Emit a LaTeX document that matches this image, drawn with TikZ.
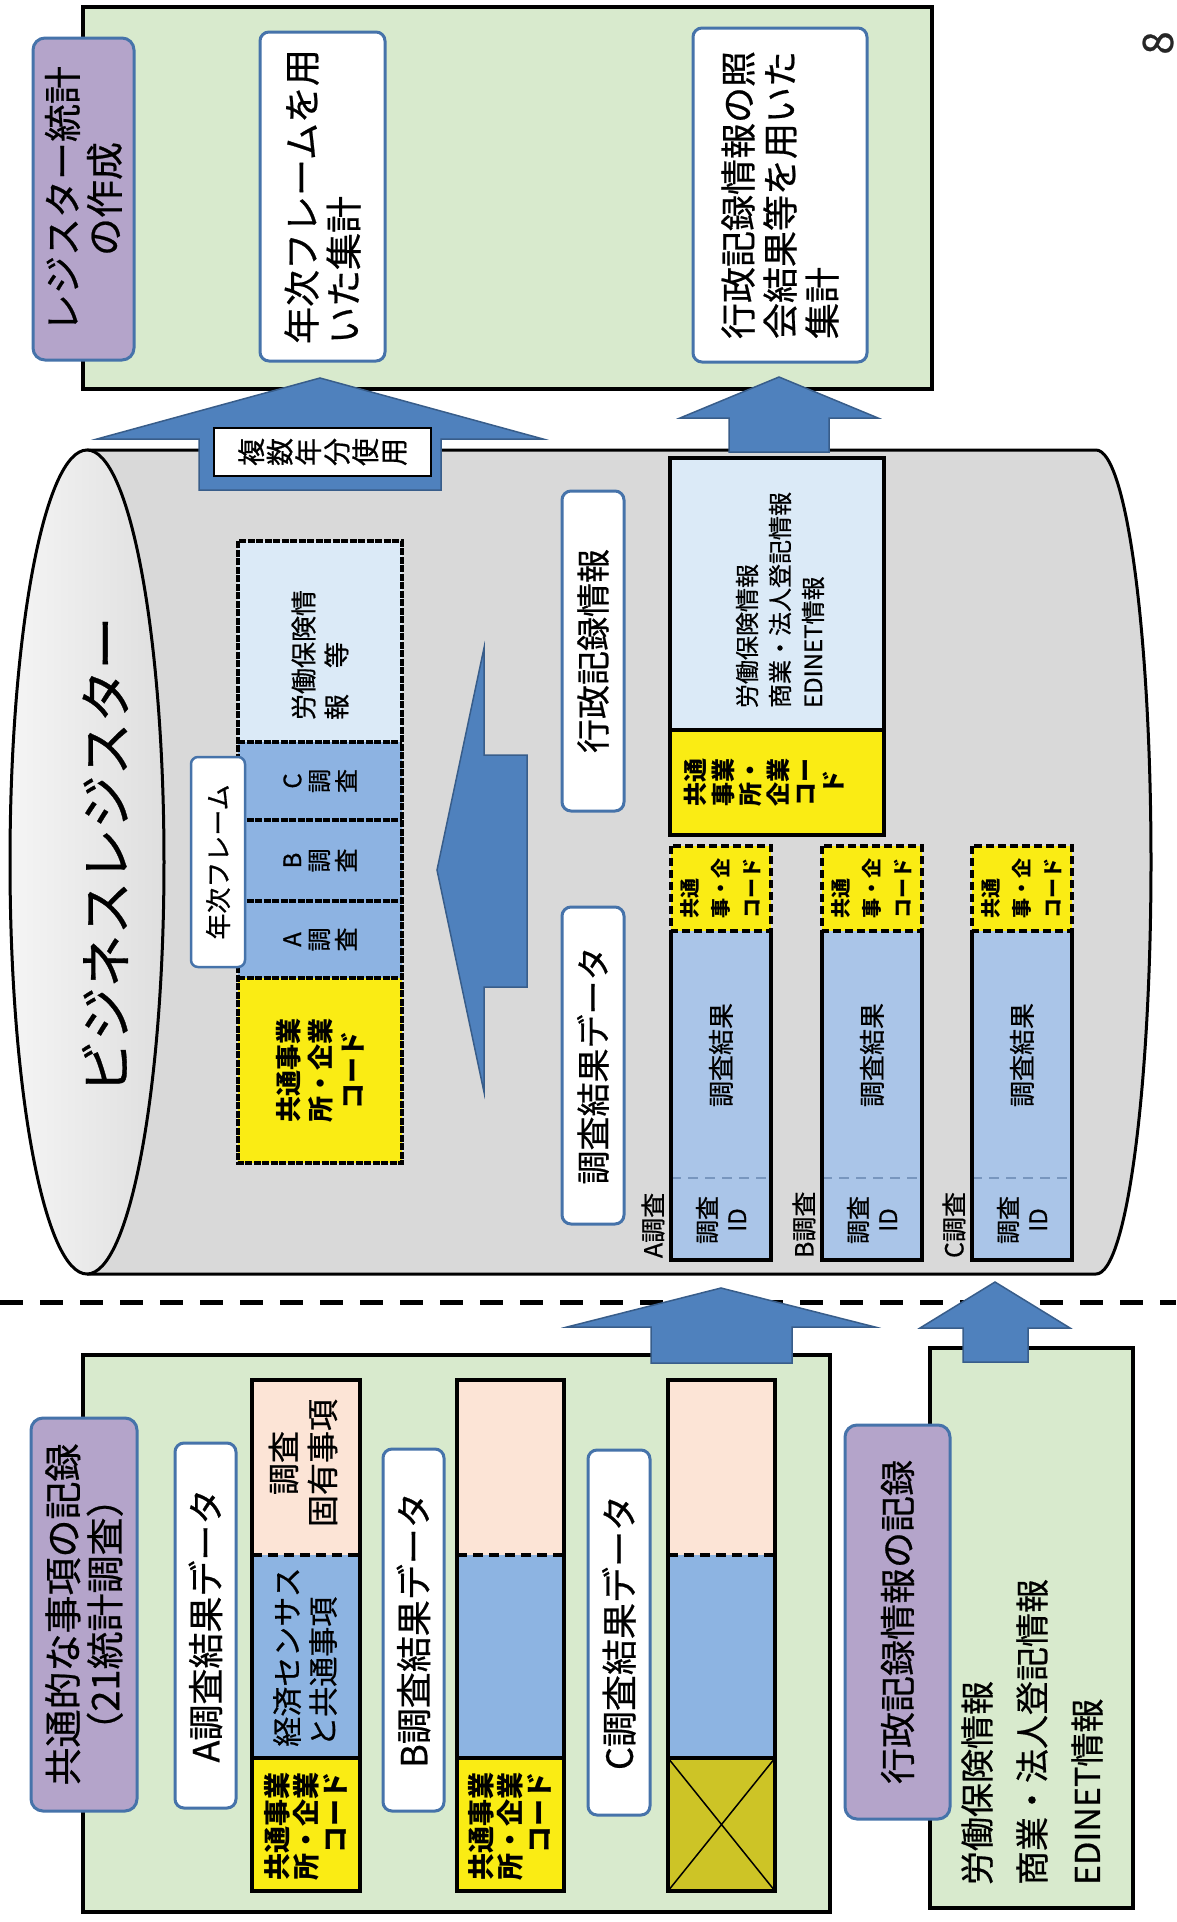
\documentclass[tikz,border=0pt]{standalone}
\usepackage{fontspec}
\setmainfont{Noto Sans CJK JP}[UprightFeatures={FakeBold=0.6}]
\newcommand\fsz[2]{\fontsize{#1pt}{#2pt}\selectfont}
\definecolor{cgreen}{RGB}{216,234,205}
\definecolor{cpurple}{RGB}{180,164,202}
\definecolor{cborder}{RGB}{70,115,170}
\definecolor{clight}{RGB}{219,234,247}
\definecolor{cmid}{RGB}{141,179,226}
\definecolor{cblue}{RGB}{141,180,226}
\definecolor{csurv}{RGB}{170,197,232}
\definecolor{cyellow}{RGB}{250,236,20}
\definecolor{colive}{RGB}{205,196,38}
\definecolor{cpeach}{RGB}{252,228,214}
\definecolor{carrow}{RGB}{79,129,189}
\definecolor{carrowd}{RGB}{56,93,138}
\definecolor{cgray}{RGB}{217,217,217}
\definecolor{cidsep}{RGB}{120,150,190}
\tikzset{
  every node/.style={inner sep=0pt, outer sep=0pt},
  rot/.style={rotate=90},
  grnbox/.style={draw=black, line width=3.5pt, fill=cgreen},
  purpbox/.style={rot, draw=cborder, line width=3pt, fill=cpurple, rounded corners=12pt, align=center},
  whitebox/.style={rot, draw=cborder, line width=3pt, fill=white, rounded corners=9pt, align=center},
  blkline/.style={draw=black, line width=4pt},
  dotline/.style={draw=black, line width=4pt, dash pattern=on 7pt off 1.5pt},
  survdash/.style={draw=black, line width=4pt, dash pattern=on 8pt off 4pt},
  barrow/.style={fill=carrow, draw=carrowd, line width=1.5pt, line join=miter},
  codetext/.style={rot, font=\bfseries\fsz{20}{31}, align=left},
}
\begin{document}
\begin{tikzpicture}[x=1pt,y=-1pt]
\useasboundingbox (0,0) rectangle (1176,1922);
\fill[white] (0,0) rectangle (1176,1922);

% ===== top green area =====
\node[grnbox, minimum width=849pt, minimum height=382pt] (tg) at (507.5,198) {};
\node[purpbox, minimum width=322pt, minimum height=101pt, font=\fsz{38}{42}] (p1) at (83.5,199) {レジスター統計\\の作成};
\node[whitebox, minimum width=329pt, minimum height=125pt, font=\fsz{37}{42}, align=left] (w1) at (322.5,196.5) {年次フレームを用\\いた集計};
\node[whitebox, minimum width=334pt, minimum height=174pt, font=\fsz{36}{42}, align=left] (w2) at (780,195) {行政記録情報の照\\会結果等を用いた\\集計};
\node[rot, font=\fsz{42}{48}, text=black!85] (pg) at (1158,43) {8};

% ===== cylinder =====
\fill[cgray] (87,450) -- (1096,450) arc[start angle=-90, end angle=90, x radius=55, y radius=412] -- (87,1274) -- cycle;
\draw[line width=3pt] (87,450) -- (1096,450) arc[start angle=-90, end angle=90, x radius=55, y radius=412] -- (87,1274);
\shade[left color=white!92!gray, right color=cgray!85] (87,862) ellipse[x radius=77, y radius=412];
\draw[line width=3pt] (87,862) ellipse[x radius=77, y radius=412];
\node[rot, font=\fsz{53}{60}] (bizreg) at (105,855) {ビジネスレジスター};

% arrow to top green (multi-year)
\draw[barrow] (320,378) -- (543,439) -- (441,439) -- (441,490) -- (199,490) -- (199,439) -- (97,439) -- cycle;
\node[rot, draw=black, line width=2pt, fill=white, minimum width=48pt, minimum height=217pt, font=\fsz{28}{28.5}, align=center] (l1) at (322.5,452) {複\\数\\年\\分\\使\\用};

% arrow to top green (admin)
\draw[barrow] (779,377) -- (878,418) -- (829,418) -- (829,452) -- (729,452) -- (729,418) -- (680,418) -- cycle;

% annual frame record
\fill[clight] (238,541) rectangle (402,742);
\fill[cmid] (238,742) rectangle (402,978);
\fill[cyellow] (238,978) rectangle (402,1163);
\draw[dotline] (238,742) -- (402,742);
\draw[dotline] (238,820) -- (402,820);
\draw[dotline] (238,901) -- (402,901);
\draw[dotline] (238,978) -- (402,978);
\draw[dotline] (238,541) rectangle (402,1163);
\node[rot, font=\fsz{26}{33}, align=left] (r1t) at (320,655) {労働保険情\\報　等};
\node[rot, font=\fsz{24}{27}, align=center] (r1c) at (320,781) {C\\調\\査};
\node[rot, font=\fsz{24}{27}, align=center] (r1b) at (320,860.5) {B\\調\\査};
\node[rot, font=\fsz{24}{27}, align=center] (r1a) at (320,939.5) {A\\調\\査};
\node[rot, font=\bfseries\fsz{26}{32}, align=center] (r1y) at (320,1070) {共通事業\\所・企業\\コード};
\node[rot, draw=cborder, line width=2.5pt, fill=white, rounded corners=7pt, minimum width=210pt, minimum height=54pt, font=\fsz{26}{30}] (nf) at (218,862) {年次フレーム};

% big left arrow inside cylinder
\draw[barrow] (437,870) -- (484,648) -- (484,755) -- (527,755) -- (527,987) -- (484,987) -- (484,1092) -- cycle;

% labels in cylinder
\node[whitebox, minimum width=320pt, minimum height=62pt, font=\fsz{34}{40}] (w3) at (593,651) {行政記録情報};
\node[whitebox, minimum width=317pt, minimum height=62pt, font=\fsz{34}{40}] (w4) at (593,1065.5) {調査結果データ};

% admin record in cylinder
\fill[clight] (670,458) rectangle (884,730);
\fill[cyellow] (670,730) rectangle (884,835);
\draw[blkline] (670,458) rectangle (884,835);
\draw[blkline] (670,730) -- (884,730);
\node[rot, font=\fsz{24}{33}, align=left] (r2t) at (780,600) {労働保険情報\\商業・法人登記情報\\EDINET情報};
\node[rot, font=\bfseries\fsz{24}{27.5}, align=center] (r2y) at (764,782) {共通\\事業\\所・\\企業\\コー\\ド};

% survey records A B C
\foreach \xa/\xb/\lab/\nm in {671/771/A/sa, 822/922/B/sb, 972/1072/C/sc}{
  \fill[cyellow] (\xa,846) rectangle (\xb,931);
  \fill[csurv] (\xa,931) rectangle (\xb,1260);
  \draw[cidsep, line width=2pt, dash pattern=on 10pt off 7pt] (\xa,1178) -- (\xb,1178);
  \draw[blkline] (\xa,931) -- (\xa,1260) -- (\xb,1260) -- (\xb,931);
  \draw[survdash] (\xa,846) rectangle (\xb,931);
  \node[codetext] (\nm y) at ({(\xa+\xb)/2},888) {共通\\事・企\\コード};
  \node[rot, font=\fsz{26}{30}] (\nm r) at ({(\xa+\xb)/2},1055) {調査結果};
  \node[rot, font=\fsz{24}{30}, align=center] (\nm id) at ({(\xa+\xb)/2},1220) {調査\\ID};
  \node[rot, anchor=west, font=\fsz{25}{28}] (\nm l) at (\xa-18,1258) {\lab 調査};
}

% ===== separator =====
\draw[line width=5pt, dash pattern=on 23pt off 17pt] (0,1302) -- (1176,1302);

% ===== lower area =====
\node[grnbox, minimum width=747pt, minimum height=557pt] (lg) at (456.5,1633.5) {};
\node[grnbox, minimum width=203pt, minimum height=560pt] (rg) at (1031.5,1628) {};

\draw[barrow] (721,1288) -- (875,1327) -- (792,1327) -- (792,1363) -- (651,1363) -- (651,1327) -- (567,1327) -- cycle;
\draw[barrow] (995,1282) -- (1070,1328) -- (1028,1328) -- (1028,1362) -- (963,1362) -- (963,1328) -- (920,1328) -- cycle;

\node[purpbox, minimum width=393pt, minimum height=106pt, font=\fsz{38}{42}] (p2) at (84,1614.5) {共通的な事項の記録\\（21統計調査）};
\node[whitebox, minimum width=365pt, minimum height=61pt, font=\fsz{36}{40}] (w5) at (205.5,1625.5) {A調査結果データ};
\node[whitebox, minimum width=362pt, minimum height=61pt, font=\fsz{36}{40}] (w6) at (413.5,1630) {B調査結果データ};
\node[whitebox, minimum width=365pt, minimum height=62pt, font=\fsz{36}{40}] (w7) at (619,1632.5) {C調査結果データ};

% record A
\fill[cpeach] (252,1380) rectangle (360,1555);
\fill[cblue] (252,1555) rectangle (360,1758);
\fill[cyellow] (252,1758) rectangle (360,1891);
\draw[blkline] (252,1380) rectangle (360,1891);
\draw[blkline, dash pattern=on 10pt off 6pt] (252,1555) -- (360,1555);
\draw[blkline] (252,1758) -- (360,1758);
\node[rot, font=\fsz{32}{39}, align=center] (lap) at (303,1463) {調査\\固有事項};
\node[rot, font=\fsz{30}{36}, align=left] (lab) at (305,1657) {経済センサス\\と共通事項};
\node[rot, font=\bfseries\fsz{27}{29}, align=right] (lay) at (306,1826) {共通事業\\所・企業\\コード};

% record B
\fill[cpeach] (457,1380) rectangle (564,1555);
\fill[cblue] (457,1555) rectangle (564,1758);
\fill[cyellow] (457,1758) rectangle (564,1891);
\draw[blkline] (457,1380) rectangle (564,1891);
\draw[blkline, dash pattern=on 10pt off 6pt] (457,1555) -- (564,1555);
\draw[blkline] (457,1758) -- (564,1758);
\node[rot, font=\bfseries\fsz{27}{29}, align=right] (lby) at (510,1826) {共通事業\\所・企業\\コード};

% record C
\fill[cpeach] (668,1380) rectangle (775,1555);
\fill[cblue] (668,1555) rectangle (775,1758);
\fill[colive] (668,1758) rectangle (775,1891);
\draw[blkline] (668,1380) rectangle (775,1891);
\draw[blkline, dash pattern=on 10pt off 6pt] (668,1555) -- (775,1555);
\draw[blkline] (668,1758) -- (775,1758);
\draw[line width=1.5pt] (668,1758) -- (775,1891) (668,1891) -- (775,1758);

% admin records
\node[purpbox, minimum width=394pt, minimum height=105pt, font=\fsz{36}{42}] (p3) at (897.5,1622) {行政記録情報の記録};
\node[rot, anchor=west, align=left, font=\fsz{34}{55}] (rgt) at (1032,1885) {労働保険情報\\商業・法人登記情報\\EDINET情報};
\end{tikzpicture}
\end{document}
